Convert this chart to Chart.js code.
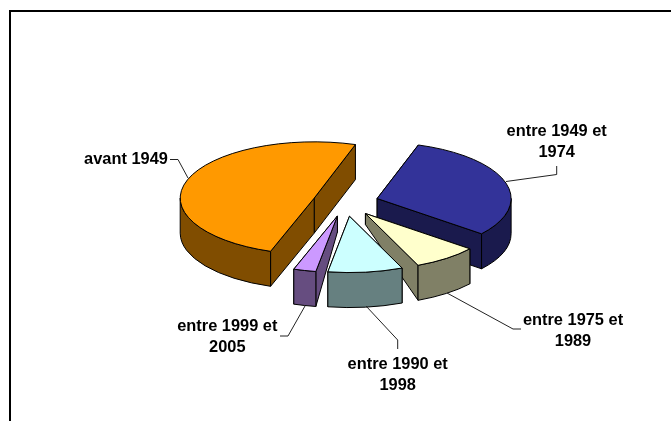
<!DOCTYPE html>
<html><head><meta charset="utf-8">
<style>html,body{margin:0;padding:0;background:#fff;overflow:hidden}#w{position:absolute;left:0;top:0;width:671px;height:421px}</style>
<script src="https://cdn.jsdelivr.net/npm/chart.js@4"></script>
</head><body><div id="w"><canvas id="c" width="671" height="421"></canvas></div>
<script>
const categories = ["avant 1949","entre 1949 et 1974","entre 1975 et 1989","entre 1990 et 1998","entre 1999 et 2005"];
const values = [49.7,30.8,7.8,9.0,2.7];
const topColors = ["#FF9900","#333399","#FFFFCC","#CCFFFF","#CC99FF"];
const sideColors = ["#804D00","#1A1A4D","#808066","#668080","#664D80"];

const FLAT = 0.42, DEPTH = 35, EXPLODE = 33;
const innerDepth = [35,35,11,35,16];
const paintOrder = [0,1,2,4,3];
const labelLayout = [
 {lines:["avant 1949"],x:126,y:159,leader:[[170,159.5],[178,159.5],[188,178]]},
 {lines:["entre 1949 et","1974"],x:556.7,y:131.7,leader:[[556.7,166],[556.7,174.5],[506,181.5]]},
 {lines:["entre 1975 et","1989"],x:573,y:320,leader:[[447,293],[513,329],[521,329]]},
 {lines:["entre 1990 et","1998"],x:397.7,y:364,leader:[[366,306],[397.7,340],[397.7,349]]},
 {lines:["entre 1999 et","2005"],x:227.3,y:326.7,leader:[[305,306],[288,336],[280,336]]}
];

const pie3d = {
 id:'pie3d',
 beforeDatasetsDraw(chart){
  const ctx = chart.ctx, arcs = chart.getDatasetMeta(0).data;
  ctx.save();
  // page frame
  ctx.fillStyle='#000';
  ctx.fillRect(9,10,662,2); ctx.fillRect(9,10,2,411);
  const cy = (chart.chartArea.top+chart.chartArea.bottom)/2;
  ctx.lineWidth=1; ctx.strokeStyle='#000'; ctx.lineJoin='round';
  const shape = paintOrder.map(i=>{
    const p = arcs[i].getProps(['x','y','startAngle','endAngle','outerRadius']);
    const mid=(p.startAngle+p.endAngle)/2, off=EXPLODE;
    const ax=p.x+Math.cos(mid)*off, ay=cy+(p.y-cy+Math.sin(mid)*off)*FLAT;
    return {i,ax,ay,r:p.outerRadius,a0:p.startAngle,a1:p.endAngle};
  });
  const poly=(pts,fill)=>{ctx.beginPath();pts.forEach((q,k)=>k?ctx.lineTo(q[0],q[1]):ctx.moveTo(q[0],q[1]));ctx.closePath();ctx.fillStyle=fill;ctx.fill();ctx.stroke();};
  for(const s of shape){
    const {i,ax,ay,r,a0,a1}=s, ry=r*FLAT, side=sideColors[i], inner=innerDepth[i];
    const pt=a=>[ax+Math.cos(a)*r, ay+Math.sin(a)*ry];
    const faces=Math.sin(a0)<Math.sin(a1)?[a0,a1]:[a1,a0];
    for(const a of faces){
      const e=pt(a);
      poly([[ax,ay],e,[e[0],e[1]+DEPTH],[ax,ay+inner]],side);
    }
    const TAU=2*Math.PI;
    for(let k=-2;k<=2;k++){
      const lo=Math.max(a0,k*TAU), hi=Math.min(a1,k*TAU+Math.PI);
      if(hi>lo){
        ctx.beginPath();
        ctx.ellipse(ax,ay,r,ry,0,lo,hi,false);
        ctx.ellipse(ax,ay+DEPTH,r,ry,0,hi,lo,true);
        ctx.closePath();ctx.fillStyle=side;ctx.fill();ctx.stroke();
      }
    }
    ctx.beginPath();ctx.moveTo(ax,ay);
    ctx.ellipse(ax,ay,r,ry,0,a0,a1,false);
    ctx.closePath();ctx.fillStyle=arcs[i].options.backgroundColor;ctx.fill();ctx.stroke();
  }
  ctx.strokeStyle='#222';
  ctx.lineJoin='miter';
  ctx.fillStyle='#000';ctx.font='bold 16.4px "Liberation Sans", Arial, sans-serif';
  ctx.textAlign='center';ctx.textBaseline='middle';
  labelLayout.forEach(l=>{
    ctx.beginPath();l.leader.forEach((q,k)=>k?ctx.lineTo(q[0],q[1]):ctx.moveTo(q[0],q[1]));ctx.stroke();
    l.lines.forEach((t,k)=>ctx.fillText(t,l.x,l.y+k*21));
  });
  ctx.restore();
  return false;
 }
};

new Chart(document.getElementById('c'),{
 type:'pie',
 data:{labels:categories,datasets:[{data:values,backgroundColor:topColors,borderWidth:0}]},
 options:{
  responsive:false,animation:false,
  rotation:199,radius:134,
  layout:{padding:{left:20,right:0,top:4,bottom:20}},
  plugins:{legend:{display:false},tooltip:{enabled:false}}
 },
 plugins:[pie3d]
});
</script></body></html>
